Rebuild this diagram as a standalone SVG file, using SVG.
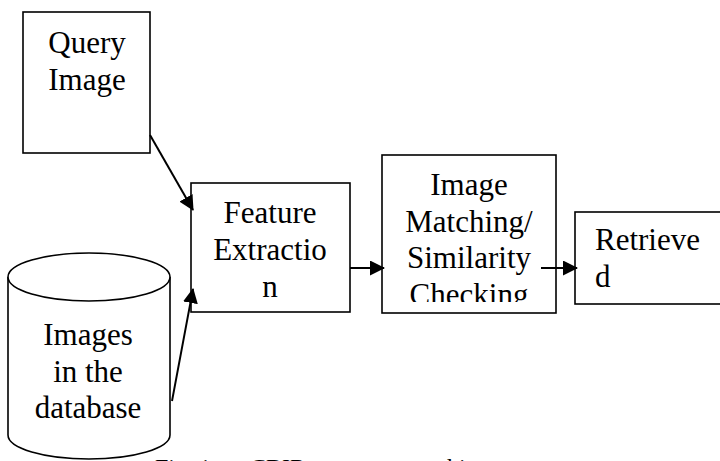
<svg xmlns="http://www.w3.org/2000/svg" width="720" height="461" viewBox="0 0 720 461">
<style>
.box{fill:#fff;stroke:#000;stroke-width:1.6}
.t{font-family:"Liberation Serif","Times New Roman","DejaVu Serif","Noto Serif",serif;font-size:31px;fill:#000}
.c{text-anchor:middle}
.cap{font-family:"Liberation Serif","Times New Roman","DejaVu Serif","Noto Serif",serif;font-size:24px;fill:#000}
.conn{stroke:#000;stroke-width:2;fill:none}
</style>
<defs>
<marker id="ah" viewBox="0 0 15 15" refX="14" refY="7.5" markerWidth="15" markerHeight="15" markerUnits="userSpaceOnUse" orient="auto">
<path d="M0,0 L15,7.5 L0,15 Z" fill="#000"/>
</marker>
<clipPath id="clipM"><rect x="383" y="156" width="172" height="146"/></clipPath>
</defs>
<rect width="720" height="461" fill="#fff"/>
<g id="query">
<rect class="box" x="23" y="12" width="127" height="141"/>
<text class="t c" x="87" y="53">Query</text>
<text class="t c" x="87" y="90">Image</text>
</g>
<g id="database">
<path class="box" d="M8,277 L8,435 A81,24 0 0 0 170,435 L170,277"/>
<ellipse class="box" cx="89" cy="277" rx="81" ry="24"/>
<text class="t c" x="88" y="345">Images</text>
<text class="t c" x="88" y="382">in the</text>
<text class="t c" x="88" y="418">database</text>
</g>
<g id="feature">
<rect class="box" x="191" y="183" width="159" height="129"/>
<text class="t c" x="270" y="223">Feature</text>
<text class="t c" x="270" y="260">Extractio</text>
<text class="t c" x="270" y="297">n</text>
</g>
<g id="matching">
<rect class="box" x="382" y="155" width="174" height="158"/>
<g clip-path="url(#clipM)">
<text class="t c" x="469" y="195">Image</text>
<text class="t c" x="469" y="232">Matching/</text>
<text class="t c" x="469" y="268">Similarity</text>
<text class="t c" x="469" y="305">Checking</text>
</g>
</g>
<g id="retrieved">
<rect class="box" x="575" y="212" width="160" height="92"/>
<text class="t" x="595" y="250">Retrieve</text>
<text class="t" x="595" y="287">d</text>
</g>
<g id="connectors">
<line class="conn" x1="150" y1="135" x2="193" y2="210" marker-end="url(#ah)"/>
<line class="conn" x1="172" y1="401" x2="193" y2="289" marker-end="url(#ah)"/>
<line class="conn" x1="350" y1="268" x2="384" y2="268" marker-end="url(#ah)"/>
<line class="conn" x1="541" y1="268" x2="577" y2="268" marker-end="url(#ah)"/>
</g>
<text class="cap" y="475"><tspan x="155">Fig. 1:</tspan><tspan x="250">CBIR</tspan><tspan x="345">system architecture</tspan></text>
</svg>
